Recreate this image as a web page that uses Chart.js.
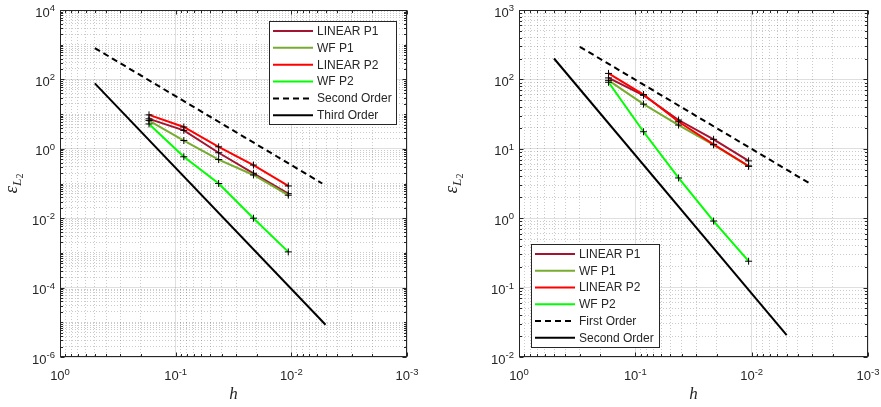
<!DOCTYPE html>
<html><head><meta charset="utf-8">
<script src="https://cdn.jsdelivr.net/npm/chart.js@4"></script>
<style>
html,body{margin:0;padding:0;background:#fff;width:881px;height:407px;overflow:hidden}
#wrapL{position:absolute;left:0;top:0;width:440px;height:407px}
#wrapR{position:absolute;left:440px;top:0;width:441px;height:407px}
</style></head><body>
<div id="wrapL"><canvas id="cL" width="440" height="407"></canvas></div>
<div id="wrapR"><canvas id="cR" width="441" height="407"></canvas></div>
<script>
// ---------- data ----------
const h = [0.17, 0.085, 0.0425, 0.02125, 0.010625];

// left panel
const linearP1_L = [7.3, 3.4, 0.77, 0.197, 0.051];
const wfP1_L     = [6.5, 1.73, 0.49, 0.176, 0.046];
const linearP2_L = [9.5, 4.25, 1.14, 0.34, 0.085];
const wfP2_L     = [5.2, 0.59, 0.1, 0.01, 0.00107];
const hSecondL   = [0.5, 0.0054];
const secondL    = [800, 0.1];
const hThirdL    = [0.5, 0.00506];
const thirdL     = [77, 8.5e-6];

// right panel
const linearP1_R = [105, 59, 26, 13.7, 6.7];
const wfP1_R     = [97, 44, 22, 11.4, 5.6];
const linearP2_R = [122, 60.5, 24.5, 11.6, 5.65];
const wfP2_R     = [91, 17.6, 3.8, 0.91, 0.24];
const hFirstR    = [0.3, 0.0032];
const firstR     = [295, 3.2];
const hSecondR   = [0.5, 0.005];
const secondR    = [200, 0.0206];

const seriesNames = ['LINEAR P1', 'WF P1', 'LINEAR P2', 'WF P2'];
const leftRefNames = ['Second Order', 'Third Order'];
const rightRefNames = ['First Order', 'Second Order'];

const xRange = [1e-3, 1];
const yRangeL = [1e-6, 1e4];
const yRangeR = [1e-2, 1e3];

// ---------- helpers ----------
const COLORS = ['#A2142F', '#77AC30', '#FF0000', '#00FF00'];
const AXC = '#262626';
const SANS = '"Liberation Sans", Arial, sans-serif';

function logTicks(min, max){
  const a = Math.round(Math.log10(min)), b = Math.round(Math.log10(max));
  const out = [];
  for (let e = a; e < b; e++) for (let m = 1; m <= 9; m++) out.push({value: Number((m * Math.pow(10, e)).toPrecision(12))});
  out.push({value: Math.pow(10, b)});
  return out;
}
function isMajor(v, step){
  const e = Math.round(Math.log10(v));
  return Math.abs(v / Math.pow(10, e) - 1) < 1e-9 && (((e % step) + step) % step) === 0;
}
function pts(xs, ys){ return xs.map((x, i) => ({x: x, y: ys[i]})); }

function dataSeries(label, ys, color, i){
  return {label, data: pts(h, ys), borderColor: color, backgroundColor: color, borderWidth: 2,
    pointStyle: 'cross', pointRadius: 3.5, pointHoverRadius: 3.5, pointBorderColor: '#000',
    pointBackgroundColor: '#000', pointBorderWidth: 1, tension: 0, fill: false, order: 10 - i};
}
function refSeries(label, xs, ys, dashed, i){
  return {label, data: pts(xs, ys), borderColor: '#000', backgroundColor: '#000', borderWidth: 2,
    borderDash: dashed ? [6, 4] : [], pointRadius: 0, pointHoverRadius: 0, tension: 0, fill: false, order: 10 - i};
}

function makeAxis(range, step, isX, size){
  return {
    type: 'logarithmic', min: range[0], max: range[1], reverse: isX, position: isX ? 'bottom' : 'left',
    afterBuildTicks: s => { s.ticks = logTicks(range[0], range[1]); },
    afterFit: s => { if (isX) s.height = size; else s.width = size; s.paddingTop = 0; s.paddingBottom = 0; s.paddingLeft = 0; s.paddingRight = 0; },
    majorStep: step,
    ticks: {display: false, autoSkip: false, maxRotation: 0, minRotation: 0,
      callback: v => isMajor(v, step) ? String(Math.round(Math.log10(v))) : ''},
    grid: {drawTicks: false, lineWidth: 1,
      color: c => (c.tick && isMajor(c.tick.value, step)) ? 'rgba(38,38,38,0.15)' : 'rgba(38,38,38,0.24)'},
    border: {display: false, dash: c => (c.tick && !isMajor(c.tick.value, step)) ? [1, 2] : []},
    title: isX ? {display: true, text: 'h', color: AXC, padding: {top: 0, bottom: 2},
      font: {family: '"Liberation Serif", "Times New Roman", serif', style: 'italic', size: 17}} : {display: false}
  };
}

// frame + inward tick marks (MATLAB box style)
const framePlugin = {
  id: 'frame',
  afterDraw(chart){
    const a = chart.chartArea, ctx = chart.ctx;
    const L = Math.round(a.left) + 0.5, T = Math.round(a.top) + 0.5, R = Math.round(a.right) - 0.5, B = Math.round(a.bottom) - 0.5;
    ctx.save();
    ctx.strokeStyle = AXC; ctx.lineWidth = 1;
    ctx.beginPath();
    ['x', 'y'].forEach(id => {
      const s = chart.scales[id], step = s.options.majorStep;
      s.ticks.forEach((t, i) => {
        const p = Math.round(s.getPixelForTick(i)) + 0.5;
        const len = isMajor(t.value, step) ? 4 : 2.5;
        if (id === 'x') { ctx.moveTo(p, B); ctx.lineTo(p, B - len); ctx.moveTo(p, T); ctx.lineTo(p, T + len); }
        else { ctx.moveTo(L, p); ctx.lineTo(L + len, p); ctx.moveTo(R, p); ctx.lineTo(R - len, p); }
      });
    });
    ctx.stroke();
    ctx.strokeRect(L, T, R - L, B - T);
    ctx.restore();
  }
};
// tick labels 10^n with real superscripts, placed from the library's scales
const tickLabelPlugin = {
  id: 'ticklabels',
  afterDraw(chart){
    const ctx = chart.ctx, a = chart.chartArea;
    const fB = '13px ' + SANS, fE = '9.5px ' + SANS;
    ctx.save();
    ctx.fillStyle = AXC; ctx.textBaseline = 'alphabetic'; ctx.textAlign = 'left';
    ['x', 'y'].forEach(id => {
      const s = chart.scales[id];
      s.ticks.forEach((t, i) => {
        const exp = s.options.ticks.callback(t.value, i, s.ticks);
        if (!exp) return;
        const p = s.getPixelForTick(i);
        ctx.font = fB; const wb = ctx.measureText('10').width;
        ctx.font = fE; const we = ctx.measureText(exp).width;
        let x0, yb;
        if (id === 'x') { x0 = p - (wb + we) / 2; yb = a.bottom + 23; }
        else { x0 = a.left - 5 - (wb + we); yb = p + 6.5; }
        ctx.font = fB; ctx.fillText('10', x0, yb);
        ctx.font = fE; ctx.fillText(exp, x0 + wb, yb - 5.5);
      });
    });
    ctx.restore();
  }
};
const yTitlePlugin = {
  id: 'ytitle',
  afterDraw(chart, args, o){
    const ctx = chart.ctx, a = chart.chartArea;
    ctx.save();
    ctx.translate(o.x, (a.top + a.bottom) / 2);
    ctx.rotate(-Math.PI / 2);
    ctx.fillStyle = AXC; ctx.textBaseline = 'alphabetic';
    const f1 = 'italic 19px "Liberation Serif", serif', f2 = 'italic 13.5px "Liberation Serif", serif', f3 = '10px "Liberation Serif", serif';
    ctx.font = f1; const w1 = ctx.measureText('ε').width;
    ctx.font = f2; const w2 = ctx.measureText('L').width;
    ctx.font = f3; const w3 = ctx.measureText('2').width;
    let x = -(w1 + w2 + w3) / 2;
    ctx.font = f1; ctx.fillText('ε', x, 4); x += w1;
    ctx.font = f2; ctx.fillText('L', x, 7.5); x += w2;
    ctx.font = f3; ctx.fillText('2', x, 9.5);
    ctx.restore();
  }
};
const boxLegendPlugin = {
  id: 'boxlegend',
  afterDraw(chart, args, o){
    const ctx = chart.ctx;
    ctx.save();
    ctx.fillStyle = '#fff';
    ctx.fillRect(o.x, o.y, o.w, o.h);
    ctx.strokeStyle = AXC; ctx.lineWidth = 1;
    ctx.strokeRect(o.x + 0.5, o.y + 0.5, o.w, o.h);
    ctx.font = '12px ' + SANS;
    ctx.textBaseline = 'middle';
    chart.data.datasets.forEach((ds, i) => {
      const y = o.y + o.first + i * o.row;
      ctx.strokeStyle = ds.borderColor; ctx.lineWidth = ds.borderWidth;
      ctx.setLineDash(ds.borderDash || []);
      ctx.beginPath(); ctx.moveTo(o.x + 4, y); ctx.lineTo(o.x + 44, y); ctx.stroke();
      ctx.setLineDash([]);
      ctx.fillStyle = AXC;
      ctx.fillText(ds.label, o.x + 48, y + 0.5);
    });
    ctx.restore();
  }
};

function makeChart(id, datasets, yRange, yStep, yAxisWidth, padRight, legendBox){
  return new Chart(document.getElementById(id), {
    type: 'line',
    data: {datasets},
    options: {
      responsive: false, animation: false, devicePixelRatio: 1,
      layout: {padding: {top: 10, right: padRight, bottom: 0, left: 0}},
      scales: {x: makeAxis(xRange, 1, true, 50), y: makeAxis(yRange, yStep, false, yAxisWidth)},
      plugins: {legend: {display: false}, tooltip: {enabled: false},
        ytitle: {x: 13}, boxlegend: legendBox}
    },
    plugins: [framePlugin, tickLabelPlugin, yTitlePlugin, boxLegendPlugin]
  });
}

const dsL = [
  dataSeries(seriesNames[0], linearP1_L, COLORS[0], 0),
  dataSeries(seriesNames[1], wfP1_L, COLORS[1], 1),
  dataSeries(seriesNames[2], linearP2_L, COLORS[2], 2),
  dataSeries(seriesNames[3], wfP2_L, COLORS[3], 3),
  refSeries(leftRefNames[0], hSecondL, secondL, true, 4),
  refSeries(leftRefNames[1], hThirdL, thirdL, false, 5)
];
const dsR = [
  dataSeries(seriesNames[0], linearP1_R, COLORS[0], 0),
  dataSeries(seriesNames[1], wfP1_R, COLORS[1], 1),
  dataSeries(seriesNames[2], linearP2_R, COLORS[2], 2),
  dataSeries(seriesNames[3], wfP2_R, COLORS[3], 3),
  refSeries(rightRefNames[0], hFirstR, firstR, true, 4),
  refSeries(rightRefNames[1], hSecondR, secondR, false, 5)
];

makeChart('cL', dsL, yRangeL, 2, 60, 33, {x: 269, y: 21, w: 127, h: 103, first: 10, row: 16.85});
makeChart('cR', dsR, yRangeR, 1, 79, 13, {x: 91, y: 244, w: 128, h: 103, first: 10, row: 16.75});
</script>
</body></html>
